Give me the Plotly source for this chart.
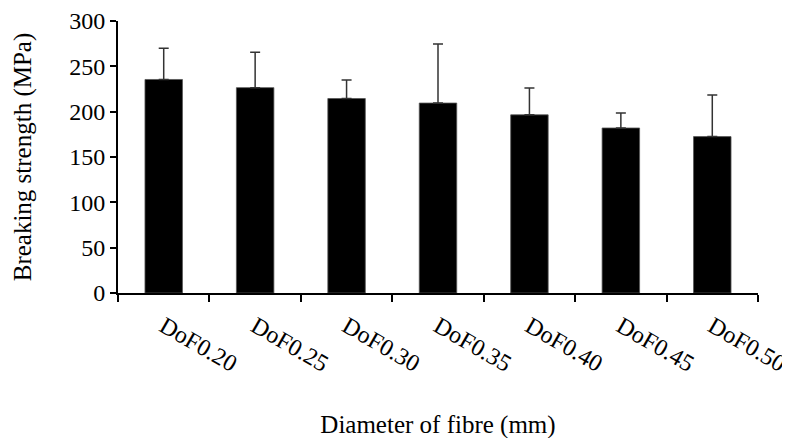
import plotly.graph_objects as go

categories = ["DoF0.20", "DoF0.25", "DoF0.30", "DoF0.35", "DoF0.40", "DoF0.45", "DoF0.50"]
strength = [235.5, 226.5, 214.5, 209.5, 196.5, 182, 172.5]
error_up = [34.5, 39, 20.5, 65, 29.5, 16.5, 46]
error_down = [0, 0, 0, 0, 0, 0, 0]
y_ticks = [0, 50, 100, 150, 200, 250, 300]

FONT = "Liberation Serif, Times New Roman, serif"

fig = go.Figure(
    go.Bar(
        x=categories,
        y=strength,
        marker=dict(color="black", line=dict(color="#555555", width=0.8)),
        error_y=dict(
            type="data",
            symmetric=False,
            array=error_up,
            arrayminus=error_down,
            color="#333333",
            thickness=1.5,
            width=5,
        ),
    )
)

fig.update_layout(
    width=782,
    height=438,
    margin=dict(l=110, r=32, t=13, b=153),
    paper_bgcolor="white",
    plot_bgcolor="white",
    bargap=0.59,
    showlegend=False,
    font=dict(family=FONT, size=24, color="black"),
)

fig.update_xaxes(
    automargin=False,
    showline=True,
    linecolor="black",
    linewidth=2,
    ticks="outside",
    tickson="boundaries",
    ticklen=7,
    tickwidth=2,
    tickcolor="black",
    tickangle=30,
    ticklabelstandoff=8,
    tickfont=dict(family=FONT, size=24),
    title=dict(text="Diameter of fibre (mm)", font=dict(family=FONT, size=25), standoff=40),
    showgrid=False,
)

fig.update_yaxes(
    automargin=False,
    range=[0, 300],
    tickvals=y_ticks,
    showline=True,
    linecolor="black",
    linewidth=2,
    ticks="outside",
    ticklen=6,
    tickwidth=2,
    tickcolor="black",
    tickfont=dict(family=FONT, size=24),
    title=dict(text="Breaking strength (MPa)", font=dict(family=FONT, size=25), standoff=30),
    showgrid=False,
    zeroline=False,
)

fig.write_html("out.html")
